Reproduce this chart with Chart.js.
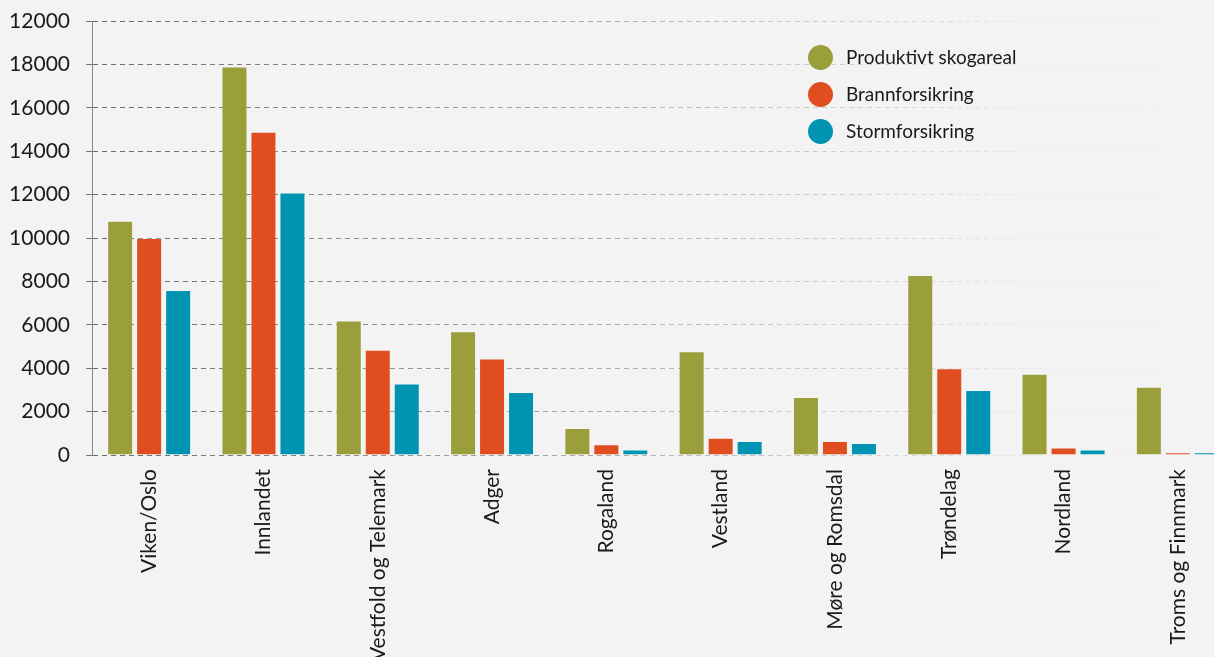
<!DOCTYPE html>
<html>
<head>
<meta charset="utf-8">
<script src="https://cdn.jsdelivr.net/npm/chart.js@4"></script>
<style>
    html, body { margin: 0; padding: 0; background: #f3f3f3; overflow: hidden; }
    #wrap { position: absolute; left: 0; top: 0; width: 1240px; height: 657px; }
    .legend { position: absolute; left: 808px; top: 42px; font-family: 'Lato', sans-serif; font-size: 19px; color: #1a1a1a; }
    .legend div { position: relative; height: 37px; line-height: 30px; padding-left: 38px; }
    .legend span { position: absolute; left: 0; top: 3px; width: 25px; height: 25px; border-radius: 50%; }
</style>
</head>
<body>
<div id="wrap">
    <canvas id="forestChart"></canvas>
    <div class="legend" id="legend"></div>
</div>
<script>
// Regions and values
const regions = ['Viken/Oslo', 'Innlandet', 'Vestfold og Telemark', 'Adger', 'Rogaland', 'Vestland', 'Møre og Romsdal', 'Trøndelag', 'Nordland', 'Troms og Finnmark'];
const skogareal = [10800, 17900, 6200, 5700, 1250, 4780, 2670, 8300, 3750, 3150];
const brann = [10000, 14900, 4850, 4450, 500, 800, 650, 4000, 350, 130];
const storm = [7600, 12100, 3300, 2900, 250, 650, 550, 3000, 250, 130];

const seriesNames = ['Produktivt skogareal', 'Brannforsikring', 'Stormforsikring'];
const seriesColors = ['#9a9e3b', '#e04e1f', '#0093b2'];

// y tick labels as printed in the original (top one really says 12000)
const yTickLabels = ['0', '2000', '4000', '6000', '8000', '10000', '12000', '14000', '16000', '18000', '12000'];

let gridGradient = null;
function gridColor(context) {
    const chart = context.chart;
    const area = chart.chartArea;
    if (!area) return '#999';
    if (!gridGradient) {
        gridGradient = chart.ctx.createLinearGradient(area.left, 0, area.right, 0);
        gridGradient.addColorStop(0, 'rgba(95,95,95,0.95)');
        gridGradient.addColorStop(0.45, 'rgba(150,150,150,0.75)');
        gridGradient.addColorStop(0.75, 'rgba(205,205,205,0.6)');
        gridGradient.addColorStop(0.95, 'rgba(243,243,243,0)');
    }
    return gridGradient;
}

const datasets = [skogareal, brann, storm].map((data, i) => ({
    label: seriesNames[i],
    data: data,
    backgroundColor: seriesColors[i],
    borderColor: 'rgba(255,255,255,0.25)',
    borderWidth: 1,
    categoryPercentage: 0.761,
    barPercentage: 0.897
}));

// HTML legend
const legendEl = document.getElementById('legend');
seriesNames.forEach((name, i) => {
    const row = document.createElement('div');
    const dot = document.createElement('span');
    dot.style.background = seriesColors[i];
    row.appendChild(dot);
    row.appendChild(document.createTextNode(name));
    legendEl.appendChild(row);
});

new Chart(document.getElementById('forestChart'), {
    type: 'bar',
    data: { labels: regions, datasets: datasets },
    options: {
        responsive: true,
        maintainAspectRatio: false,
        animation: false,
        layout: { padding: { top: 21, right: 5, left: 0, bottom: 0 } },
        plugins: {
            legend: { display: false },
            tooltip: { enabled: false }
        },
        scales: {
            x: {
                grid: { display: false },
                border: { display: false },
                ticks: {
                    color: '#1a1a1a',
                    font: { family: 'Lato', size: 21 },
                    maxRotation: 90,
                    minRotation: 90,
                    autoSkip: false,
                    padding: 6
                },
                afterFit(scale) {
                    scale.height = 202;
                    scale.paddingLeft = 0;
                    scale.paddingRight = 0;
                }
            },
            y: {
                min: 0,
                max: 20000,
                ticks: {
                    stepSize: 2000,
                    color: '#1a1a1a',
                    font: { family: 'Lato', size: 21 },
                    padding: 16,
                    callback: (value) => yTickLabels[Math.round(value / 2000)]
                },
                grid: {
                    color: gridColor,
                    lineWidth: 1,
                    drawTicks: true,
                    tickLength: 6,
                    tickColor: '#777',
                    tickBorderDash: []
                },
                border: {
                    display: true,
                    color: '#888',
                    width: 1,
                    dash: [5, 4]
                },
                afterFit(scale) {
                    scale.width = 92;
                    scale.paddingTop = 0;
                    scale.paddingBottom = 0;
                }
            }
        }
    }
});
</script>
</body>
</html>
